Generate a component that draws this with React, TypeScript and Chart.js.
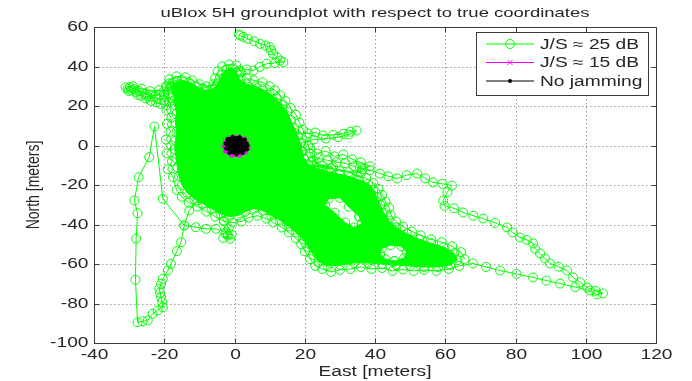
import React, { useEffect, useRef } from 'react';
import { Chart, registerables } from 'chart.js';

Chart.register(...registerables);

type P = [number, number];

// ---------- text / ticks ----------
const chartTitle = 'uBlox 5H groundplot with respect to true coordinates';
const xAxisLabel = 'East [meters]';
const yAxisLabel = 'North [meters]';
const xTicks = [-40, -20, 0, 20, 40, 60, 80, 100, 120];
const yTicks = [-100, -80, -60, -40, -20, 0, 20, 40, 60];
const seriesLabels = ['J/S \u2248 25 dB', 'J/S \u2248 15 dB', 'No jamming'];

// ---------- J/S ≈ 25 dB : trail ----------
const greenTop: P[] = [
  [1.2, 56.2], [1.6, 55.7], [2.5, 55], [3.8, 54], [5.6, 52.8], [7.3, 51.5], [8.8, 50.6], [10.1, 49.8],
  [10.4, 48.2], [11, 46.4], [12.2, 44.6], [13, 43], [13.9, 42.2], [11.5, 41.8], [9.2, 41.4], [7.2, 39.8],
  [5.4, 38], [3.5, 38.5], [1.6, 38], [-1.3, 36.3], [-3, 34], [-5, 31], [-9, 29],
];
const greenWest: P[] = [
  [-13, 30], [-16, 28], [-18, 24], [-19.5, 20.3], [-21, 21], [-22.3, 21.9], [-23.8, 22.6], [-25.2, 23.8],
  [-26.6, 25.2], [-28, 27], [-29.3, 27.8], [-30.4, 28.7], [-29.8, 29.5], [-28.6, 28.6], [-27.2, 27.6],
  [-25.6, 26.4], [-24.1, 25.9], [-22.6, 25], [-21.2, 25.8], [-20.2, 27.4], [-19.4, 29.5], [-18.5, 31.5],
  [-19, 26], [-21.5, 28], [-24, 27.5], [-26.5, 28.8], [-28.8, 30], [-31, 29.5], [-30.2, 27.6], [-27.6, 25.6],
  [-24.8, 24.8], [-22, 23.8], [-20, 22.8], [-16.5, 32.5], [-14, 30], [-12, 20], [-15, 8],
];
const greenSouthWest: P[] = [
  [-14, -10], [-12, -22], [-10.5, -27.8], [-12.9, -32.9], [-14.3, -40.5], [-15.2, -49], [-16.4, -53.5],
  [-18.1, -59.9], [-19, -63.3], [-20.4, -67.5], [-20.9, -70], [-21.4, -72.6], [-21.2, -74.6], [-20.9, -76.8],
  [-20.6, -79.3], [-20.4, -81.9], [-21.9, -83.5], [-23.3, -85.2], [-24.7, -88.6], [-26.2, -89], [-27.6, -89.5],
  [-28.2, -68], [-28, -47.2], [-27.6, -34.3], [-28.5, -27.8], [-27.3, -16.1], [-24.3, -5.9], [-22.8, 9.6],
  [-20.4, -27], [-14.3, -40.5], [-11, -41.4], [-8.1, -42.2], [-5.3, -42.2], [-2.4, -43.9], [-1.9, -45.6],
  [-3.2, -46.8], [-1.2, -47.2], [-0.8, -45], [-2.6, -44.6], [-1.6, -42], [-3, -38], [-5, -30],
];
const greenEastUpper: P[] = [
  [12, 8], [17, 6.5], [20.9, 6.1], [23, 6.6], [25.2, 5.1], [28.1, 5.4], [31, 5.9], [33, 7], [34.8, 7.6],
  [32.5, 5.6], [29.5, 4.2], [26, 3.5], [22.5, 3], [19, 1.5],
];
const greenBandTop: P[] = [
  [19, -3], [21.5, -1.5], [23.5, -4], [26, -2.8], [28.5, -5.5], [31, -4.5], [33.5, -7], [36, -8.5],
  [38.5, -10.5], [36.5, -12], [34, -10.5], [31.5, -9], [29, -8.5], [26.5, -7.5], [24, -6.5], [22, -8],
  [25, -10], [28, -11], [21, -10],
];
const greenEast: P[] = [
  [36, -14], [35.7, -11.1], [38.5, -12.5], [41.4, -14.2], [43.8, -15.6], [46.3, -16.7], [49, -15], [52, -14.2],
  [54.3, -16.6], [56.5, -18.7], [59.2, -19.4], [61.9, -20.3], [60.6, -23.6], [59.4, -27.8], [59.8, -30.6],
  [62.5, -31.8], [65.1, -33.9], [68, -35.6], [70.8, -37], [74.2, -39.2], [77.6, -41.5], [79.2, -44],
  [81.3, -46.6], [83.2, -47.8], [85, -49.6], [85.6, -52.3], [87, -54.7], [88.4, -57.2], [89.8, -59.7],
  [92.3, -61.4], [94.7, -63.3], [96.4, -66.8], [98.4, -69.3], [100.4, -71.9], [102.8, -73.6], [104.9, -74.9],
  [103.2, -75.4], [101.2, -73.4], [97, -71.7], [92.7, -69.9], [88.8, -68.4], [85, -66.8], [80.3, -65],
  [75.6, -63.3], [71.6, -61.5], [67.9, -59.7], [64, -61],
];
// ragged outer rim of the dense cloud
const greenFringe: P[] = [
  [61, -62.5], [57.5, -63.5], [54, -63], [51, -63.5], [48, -62.8], [45, -63.5], [42, -62], [39, -62.5],
  [36, -61.5], [33, -62.5], [30, -63], [27.5, -64], [25, -62.5], [23, -61], [21.5, -57.5], [20, -53.5],
  [19, -50], [17.5, -47], [15.5, -44], [13.5, -41.5], [11, -39], [9, -37], [6.5, -35.5], [4, -36.5],
  [2, -38.5], [-0.5, -39], [-3, -38.5], [-5.5, -36], [-8, -33.5], [-10.5, -31], [-13, -29], [-15, -26],
  [-16.5, -22.5], [-17.5, -16], [-19, -12], [-17.8, -8], [-19.3, -4], [-18, 0], [-19.5, 3], [-18.2, 7],
  [-19.2, 11], [-18, 14], [-19.4, 18], [-18.5, 22], [-20, 26], [-19.5, 30], [-18.5, 33.5], [-16.5, 35],
  [-14, 34.5], [-12, 33], [-10, 31], [-8, 30], [-6, 31], [-5.5, 34], [-4.8, 37.5], [-3.5, 40], [-1.5, 41],
  [0.5, 40.5], [2, 37], [3.5, 34], [5.5, 33], [8, 32], [10, 30], [11.5, 28], [13, 25.5], [14.5, 22.5],
  [16, 19], [17.5, 15.5], [18.5, 11.5], [19.5, 8], [20.5, 4], [21, 0], [21.5, -4], [22.5, -7.5],
  [25, -12], [27.5, -11.5], [30, -13], [32.5, -13.5], [35, -15.5], [37.5, -16.5], [39.5, -19], [41, -22],
  [42, -25], [43, -28.5], [44, -31.5], [44.5, -35], [46, -38.5], [48, -41], [50.5, -43.5], [53, -45.5],
  [56, -47.5], [59, -49], [62, -51], [64.5, -54], [65.5, -57.5],
];

// ---------- J/S ≈ 25 dB : saturated core outline (with the white gaps inside it) ----------
const coreOutlineA: P[] = [
  [-18, 30], [-17, 32], [-15, 33], [-13, 32], [-11, 30], [-8.5, 28], [-6, 28.5], [-4.5, 32], [-3.5, 36],
  [-2.3, 38.5], [-0.5, 39], [0.6, 37], [1.5, 33.5], [3.5, 31], [6, 30], [8, 28.5], [10, 26.5], [12, 23.5],
  [13.5, 20.5], [15, 17], [16, 13], [17, 9], [18, 5], [18.8, 1], [19.3, -3], [19.8, -6.5], [21, -9.5],
  [24, -12], [27, -13.5], [30, -14.5], [33, -16], [35.5, -17.5], [38, -19.5], [39.5, -22.5], [40.5, -26],
  [41.5, -30],
];
const coreGap1: P[] = [
  [35.5, -36], [32.5, -31], [30, -26.5], [26.8, -27], [25.8, -30], [28.5, -34], [31.5, -39], [34, -41.5],
  [36.2, -39.5], [35.5, -36], [41.5, -30],
];
const coreOutlineC: P[] = [
  [42.5, -34], [44, -38], [46, -41.5], [49, -44.5], [52.5, -47.5], [56, -49.5], [59.5, -51.5], [62.5, -54.5],
  [63.5, -58], [61.5, -60.5], [58, -61.5], [54, -61.5], [50, -61], [46, -60.5],
];
const coreGap3: P[] = [
  [45.5, -58.5], [48.3, -57], [49, -54], [47.5, -51], [44.5, -50.5], [42, -52], [41.5, -55], [43, -57.5],
  [45.5, -58.5], [46, -60.5],
];
const coreOutlineD: P[] = [
  [42, -60], [38, -59.5], [34, -59.5], [30, -60.5], [26.5, -61], [24, -59], [22.5, -55.5], [21, -51.5],
  [19.5, -47.5], [17.5, -44], [15.5, -41], [13, -38], [10.5, -35.5], [8, -33], [5.5, -32], [3, -33.5],
  [1, -35.5], [-1.5, -36], [-4, -34.5], [-6.5, -32], [-9, -29.5], [-11.5, -27], [-13.5, -24], [-15, -20],
  [-15.8, -15.5], [-16.3, -11], [-16.6, -6.5], [-17, -2], [-16.8, 2.5], [-16.5, 7], [-16.8, 11.5], [-16.5, 16],
  [-17, 20.5], [-17.3, 25], [-18, 30],
];

// ---------- J/S ≈ 15 dB ----------
const magentaPts: P[] = [
  [3.6, 1.5], [3, 3.8], [1, 4.8], [-1.2, 4.5], [-2.8, 2.5], [-3.3, -0.5], [-2.8, -3.5], [-1, -5.4],
  [1.5, -5.5], [3.3, -3.8], [4.2, -1.5], [3.6, 1.5],
];

// ---------- No jamming ----------
const blackPts: P[] = [
  [3.5, 1], [3, 3], [1.5, 4.3], [-0.5, 4.5], [-2, 3.5], [-2.6, 1], [-2.4, -1.5], [-1.5, -3.8], [0.5, -4.6],
  [2.3, -3.8], [3.6, -2], [3.8, 0], [3.5, 1],
];

const GREEN = '#00ff00';
const MAGENTA = '#ff00ff';
const BLACK = '#000000';
const FONT = '"Liberation Sans", Arial, Helvetica, sans-serif';
const TEXT = '#262626';
const AXIS = '#3a3a3a';

const xy = (pts: P[]) => pts.map(([x, y]) => ({ x, y }));

function drawText(
  ctx: CanvasRenderingContext2D,
  text: string,
  x: number,
  y: number,
  o: { size: number; sx?: number; sy?: number; align?: CanvasTextAlign; baseline?: CanvasTextBaseline; rotate?: number }
) {
  ctx.save();
  ctx.translate(x, y);
  if (o.rotate) ctx.rotate(o.rotate);
  ctx.scale(o.sx ?? 1, o.sy ?? 1);
  ctx.font = `${o.size}px ${FONT}`;
  ctx.fillStyle = TEXT;
  ctx.textAlign = o.align ?? 'left';
  ctx.textBaseline = o.baseline ?? 'alphabetic';
  ctx.fillText(text, 0, 0);
  ctx.restore();
}

const matlabFrame = {
  id: 'matlabFrame',
  beforeDatasetsDraw(chart: any) {
    const { ctx, chartArea: a, scales } = chart;
    const sx = scales.x;
    const sy = scales.y;
    ctx.save();
    ctx.strokeStyle = '#9c9c9c';
    ctx.lineWidth = 1;
    ctx.setLineDash([1.5, 2.5]);
    xTicks.slice(1, -1).forEach((v) => {
      const px = Math.round(sx.getPixelForValue(v)) + 0.5;
      ctx.beginPath();
      ctx.moveTo(px, a.top);
      ctx.lineTo(px, a.bottom);
      ctx.stroke();
    });
    yTicks.slice(1, -1).forEach((v) => {
      const py = Math.round(sy.getPixelForValue(v)) + 0.5;
      ctx.beginPath();
      ctx.moveTo(a.left, py);
      ctx.lineTo(a.right, py);
      ctx.stroke();
    });
    ctx.restore();
  },
  afterDraw(chart: any) {
    const { ctx, chartArea: a, scales } = chart;
    const sx = scales.x;
    const sy = scales.y;
    const L = Math.round(a.left) + 0.5;
    const R = Math.round(a.right) + 0.5;
    const T = Math.round(a.top) + 0.5;
    const B = Math.round(a.bottom) + 0.5;
    ctx.save();
    ctx.strokeStyle = AXIS;
    ctx.lineWidth = 1;
    ctx.strokeRect(L, T, R - L, B - T);
    const tl = 5;
    xTicks.forEach((v) => {
      const px = Math.round(sx.getPixelForValue(v)) + 0.5;
      ctx.beginPath();
      ctx.moveTo(px, B); ctx.lineTo(px, B - tl);
      ctx.moveTo(px, T); ctx.lineTo(px, T + tl);
      ctx.stroke();
      drawText(ctx, String(v), px, 359, { size: 14, sx: 1.37, align: 'center' });
    });
    yTicks.forEach((v) => {
      const py = Math.round(sy.getPixelForValue(v)) + 0.5;
      ctx.beginPath();
      ctx.moveTo(L, py); ctx.lineTo(L + tl, py);
      ctx.moveTo(R, py); ctx.lineTo(R - tl, py);
      ctx.stroke();
      drawText(ctx, String(v), L - 6, py, { size: 14, sx: 1.37, align: 'right', baseline: 'middle' });
    });
    drawText(ctx, chartTitle, (a.left + a.right) / 2, 17, { size: 13, sx: 1.42, align: 'center' });
    drawText(ctx, xAxisLabel, (a.left + a.right) / 2, 376, { size: 14, sx: 1.37, align: 'center' });
    drawText(ctx, yAxisLabel, 34, (a.top + a.bottom) / 2, {
      size: 14, sy: 1.37, align: 'center', baseline: 'middle', rotate: -Math.PI / 2,
    });

    // legend
    const lx0 = 476.5, ly0 = 32.5, lx1 = 648.5, ly1 = 95.5;
    ctx.fillStyle = '#ffffff';
    ctx.fillRect(lx0, ly0, lx1 - lx0, ly1 - ly0);
    ctx.strokeStyle = AXIS;
    ctx.strokeRect(lx0, ly0, lx1 - lx0, ly1 - ly0);
    const rows = [44, 62.5, 81];
    const cols = [GREEN, MAGENTA, BLACK];
    rows.forEach((ry, i) => {
      ctx.strokeStyle = cols[i];
      ctx.lineWidth = 1;
      ctx.beginPath();
      ctx.moveTo(486, ry); ctx.lineTo(534, ry);
      ctx.stroke();
      const mx = 510;
      if (i === 0) {
        ctx.beginPath(); ctx.arc(mx, ry, 4.5, 0, Math.PI * 2); ctx.stroke();
      } else if (i === 1) {
        ctx.beginPath();
        ctx.moveTo(mx - 2.5, ry - 2.5); ctx.lineTo(mx + 2.5, ry + 2.5);
        ctx.moveTo(mx + 2.5, ry - 2.5); ctx.lineTo(mx - 2.5, ry + 2.5);
        ctx.stroke();
      } else {
        ctx.fillStyle = BLACK;
        ctx.beginPath(); ctx.arc(mx, ry, 2, 0, Math.PI * 2); ctx.fill();
      }
      drawText(ctx, seriesLabels[i], 540, ry + 1, { size: 14, sx: 1.37, baseline: 'middle' });
    });
    ctx.restore();
  },
};

export default function App() {
  const ref = useRef<HTMLCanvasElement | null>(null);
  useEffect(() => {
    if (!ref.current) return;
    const ring = {
      pointStyle: 'circle' as const,
      pointRadius: 4.5,
      pointBorderWidth: 1,
      pointBorderColor: GREEN,
      pointBackgroundColor: 'rgba(0,0,0,0)',
    };
    const trail = [
      ...greenTop, ...greenWest, ...greenSouthWest, ...greenEastUpper, ...greenBandTop, ...greenEast, ...greenFringe,
    ];
    const core = [...coreOutlineA, ...coreGap1, ...coreOutlineC, ...coreGap3, ...coreOutlineD];
    const chart = new Chart(ref.current, {
      type: 'line',
      data: {
        datasets: [
          {
            label: seriesLabels[0], data: xy(trail), borderColor: GREEN, borderWidth: 1, fill: false,
            order: 3, ...ring,
          },
          {
            label: seriesLabels[0] + ' core', data: xy(core), borderColor: GREEN, backgroundColor: GREEN,
            borderWidth: 1, fill: 'shape', order: 4, ...ring,
          },
          {
            label: seriesLabels[1], data: xy(magentaPts), borderColor: MAGENTA, backgroundColor: MAGENTA,
            borderWidth: 1, fill: 'shape', order: 2, pointStyle: 'crossRot', pointRadius: 2.5,
            pointBorderColor: MAGENTA, pointBorderWidth: 1,
          },
          {
            label: seriesLabels[2], data: xy(blackPts), borderColor: BLACK, backgroundColor: BLACK,
            borderWidth: 1, fill: 'shape', order: 1, pointStyle: 'circle', pointRadius: 1.5,
            pointBackgroundColor: BLACK, pointBorderColor: BLACK,
          },
        ] as any,
      },
      options: {
        responsive: false,
        animation: false,
        devicePixelRatio: 1,
        events: [],
        layout: { padding: { left: 94, right: 36, top: 27, bottom: 38 } },
        elements: { line: { tension: 0 } },
        scales: {
          x: { type: 'linear', min: -40, max: 120, display: false },
          y: { type: 'linear', min: -100, max: 60, display: false },
        },
        plugins: {
          legend: { display: false },
          title: { display: false },
          tooltip: { enabled: false },
        },
      } as any,
      plugins: [matlabFrame],
    });
    return () => chart.destroy();
  }, []);
  return (
    <div style={{ position: 'fixed', left: 0, top: 0, width: 692, height: 381, background: '#fff' }}>
      <canvas ref={ref} width={692} height={381} style={{ display: 'block', width: 692, height: 381 }} />
    </div>
  );
}
